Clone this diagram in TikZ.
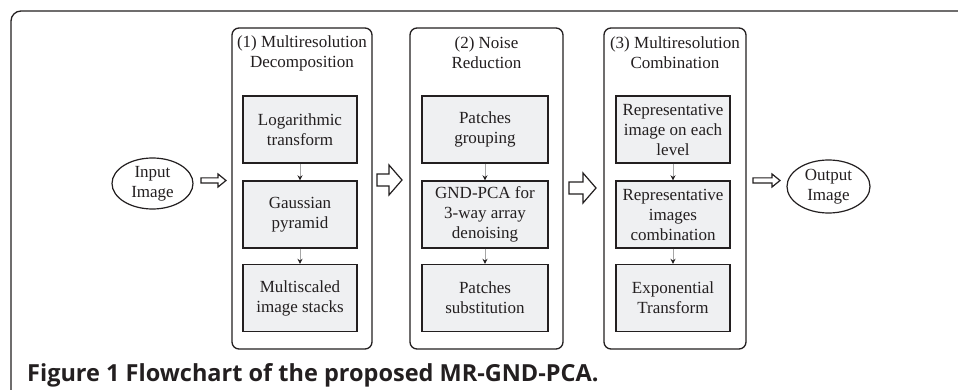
\documentclass[tikz,border=0pt]{standalone}
\usepackage{fontspec}
\setmainfont{Liberation Serif}
\newfontfamily\capfont{Open Sans}
\usetikzlibrary{arrows.meta,shapes.geometric}
\definecolor{boxgray}{HTML}{EFF0F2}
\definecolor{inkc}{HTML}{231F20}
\newcommand{\hollowarrow}[6]{% x1 x2 y shafthalf headhalf headlen
  \draw[hollow] (#1,#3-#4) -- (#2-#6,#3-#4) -- (#2-#6,#3-#5) -- (#2,#3)
    -- (#2-#6,#3+#5) -- (#2-#6,#3+#4) -- (#1,#3+#4) -- cycle;}
\begin{document}
\begin{tikzpicture}[x=1pt,y=-1pt,
  every node/.style={text=inkc},
  stage/.style={draw=inkc, line width=1.3pt, rounded corners=7pt, minimum height=321pt, inner sep=0pt},
  stepbox/.style={draw=inkc, line width=1.4pt, fill=boxgray, minimum height=67pt, align=center, inner sep=0pt, font=\fontsize{17pt}{20pt}\selectfont},
  title/.style={align=center, inner sep=0pt, font=\fontsize{17pt}{20pt}\selectfont},
  io/.style={draw=inkc, line width=1.2pt, ellipse, inner sep=0pt, align=center, font=\fontsize{17pt}{20pt}\selectfont},
  hollow/.style={draw=inkc, line width=1.2pt, fill=white},
  link/.style={draw=gray!70, line width=0.9pt, -{Stealth[length=5pt,width=5pt,color=inkc]}}]
\useasboundingbox (0,0) rectangle (958,390);
\fill[white] (0,0) rectangle (958,390);
% outer frame (cropped at right and bottom)
\draw[inkc, line width=1.3pt, rounded corners=10pt] (11,430) -- (11,11) -- (1000,11);

% stages
\node[stage, minimum width=140pt] (stage1) at (302,188.5) {};
\node[stage, minimum width=153pt] (stage2) at (486.5,188.5) {};
\node[stage, minimum width=142pt] (stage3) at (675,188.5) {};

\node[title] (t1) at (302,53) {(1) Multiresolution\\Decomposition};
\node[title] (t2) at (486.5,53) {(2) Noise\\Reduction};
\node[title] (t3) at (675,53) {(3) Multiresolution\\Combination};

% stage 1 steps
\node[stepbox, minimum width=114pt] (a1) at (300,129.5) {Logarithmic\\transform};
\node[stepbox, minimum width=114pt] (a2) at (300,214.5) {Gaussian\\pyramid};
\node[stepbox, minimum width=114pt] (a3) at (300,298) {Multiscaled\\image stacks};
% stage 2 steps
\node[stepbox, minimum width=126pt] (b1) at (485,129.5) {Patches\\grouping};
\node[stepbox, minimum width=126pt] (b2) at (485,214.5) {GND-PCA for\\3-way array\\denoising};
\node[stepbox, minimum width=126pt] (b3) at (485,298) {Patches\\substitution};
% stage 3 steps
\node[stepbox, minimum width=114pt] (c1) at (673,129.5) {Representative\\image on each\\level};
\node[stepbox, minimum width=114pt] (c2) at (673,214.5) {Representative\\images\\combination};
\node[stepbox, minimum width=114pt] (c3) at (673,298) {Exponential\\Transform};

\draw[link] (a1) -- (a2);
\draw[link] (a2) -- (a3);
\draw[link] (b1) -- (b2);
\draw[link] (b2) -- (b3);
\draw[link] (c1) -- (c2);
\draw[link] (c2) -- (c3);

% input / output
\node[io, minimum width=81pt, minimum height=51pt] (in) at (152.5,183.5) {Input\\Image};
\node[io, minimum width=83pt, minimum height=53pt] (out) at (828.5,186.5) {Output\\Image};

% hollow arrows
\hollowarrow{201}{226}{180.5}{2.6}{6.5}{8}
\hollowarrow{377}{402}{180}{6}{15}{13}
\hollowarrow{569}{596}{188}{6}{15}{13}
\hollowarrow{753}{780}{180.5}{2.6}{6.5}{8}

% caption
\node[anchor=base west, inner sep=0pt, font=\capfont\bfseries\fontsize{23.5pt}{26pt}\selectfont] (cap) at (27,381)
  {Figure 1 Flowchart of the proposed MR-GND-PCA.};
\end{tikzpicture}
\end{document}
